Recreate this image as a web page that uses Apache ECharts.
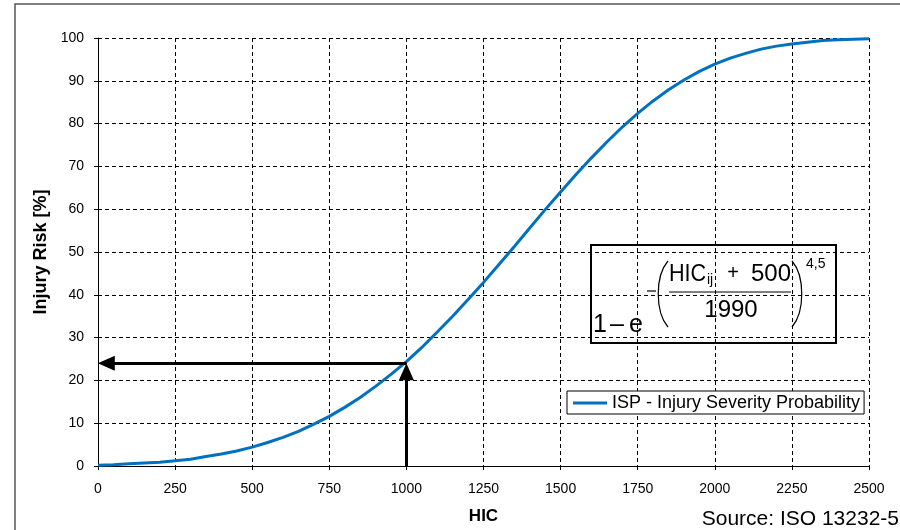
<!DOCTYPE html>
<html>
<head>
<meta charset="utf-8">
<script src="https://cdn.jsdelivr.net/npm/echarts@6/dist/echarts.min.js"></script>
<style>html,body{margin:0;padding:0;background:#fff}#c{width:900px;height:530px}</style>
</head>
<body>
<div id="c"></div>
<script>
// HIC values (x) and injury risk in % (y)
const hic = [0,50,100,150,200,250,300,350,400,450,500,550,600,650,700,750,800,850,900,950,
  1000,1050,1100,1150,1200,1250,1300,1350,1400,1450,1500,1550,1600,1650,1700,1750,1800,1850,1900,1950,
  2000,2050,2100,2150,2200,2250,2300,2350,2400,2450,2500];
const risk = [0.2,0.3,0.5,0.7,0.9,1.2,1.6,2.2,2.8,3.5,4.4,5.5,6.7,8.1,9.8,11.6,13.7,16.0,18.6,21.4,
  24.4,27.7,31.3,35.0,38.9,42.9,47.1,51.3,55.6,59.9,64.0,68.1,72.0,75.7,79.2,82.4,85.3,87.9,90.2,92.2,
  93.9,95.3,96.4,97.4,98.1,98.6,99.0,99.4,99.6,99.7,99.8];
const xTicks = [0,250,500,750,1000,1250,1500,1750,2000,2250,2500];
const yTicks = [0,10,20,30,40,50,60,70,80,90,100];
const seriesName = 'ISP - Injury Severity Probability';
const markHIC = 1000, markRisk = 24;

const FONT = "'Liberation Sans', Arial, sans-serif";
const chart = echarts.init(document.getElementById('c'), null, {renderer: 'canvas'});
const dash = {color: '#000', width: 1, type: [4, 3]};

const option = {
  backgroundColor: '#fff',
  animation: false,
  textStyle: {fontFamily: FONT},
  grid: {left: 98, right: 31, top: 38, bottom: 62, containLabel: false},
  xAxis: {
    type: 'value', min: xTicks[0], max: xTicks[xTicks.length - 1], interval: 250,
    name: 'HIC', nameLocation: 'middle', nameGap: 42,
    nameTextStyle: {fontFamily: FONT, fontSize: 17, fontWeight: 'bold', color: '#000'},
    axisLine: {show: true, onZero: false, lineStyle: {color: '#000', width: 1}},
    axisTick: {show: true, length: 4, lineStyle: {color: '#000'}},
    axisLabel: {fontFamily: FONT, fontSize: 14, color: '#000', margin: 16, formatter: v => String(v)},
    splitLine: {show: true, lineStyle: dash}
  },
  yAxis: {
    type: 'value', min: yTicks[0], max: yTicks[yTicks.length - 1], interval: 10,
    name: 'Injury Risk [%]', nameLocation: 'middle', nameGap: 44, nameRotate: 90,
    nameTextStyle: {fontFamily: FONT, fontSize: 18, fontWeight: 'bold', color: '#000'},
    axisLine: {show: true, lineStyle: {color: '#000', width: 1}},
    axisTick: {show: true, length: 4, lineStyle: {color: '#000'}},
    axisLabel: {fontFamily: FONT, fontSize: 14, color: '#000', margin: 14, formatter: v => String(v)},
    splitLine: {show: true, lineStyle: dash}
  },
  legend: {
    data: [seriesName], left: 567, top: 391, orient: 'horizontal',
    icon: 'rect', itemWidth: 34, itemHeight: 3,
    padding: [3, 4, 2, 6], borderColor: '#000', borderWidth: 1, backgroundColor: '#fff',
    textStyle: {fontFamily: FONT, fontSize: 18, color: '#000'}
  },
  series: [{
    name: seriesName, type: 'line', showSymbol: false, symbol: 'none',
    data: hic.map((h, i) => [h, risk[i]]),
    lineStyle: {color: '#0070C0', width: 3},
    itemStyle: {color: '#0070C0'},
    silent: true,
    markLine: {
      silent: true, animation: false,
      symbol: ['none', 'triangle'], symbolSize: [15, 17],
      label: {show: false},
      lineStyle: {color: '#000', width: 3, type: 'solid'},
      emphasis: {disabled: true},
      data: [
        [{coord: [markHIC, 0]}, {coord: [markHIC, markRisk - 2]}],
        [{coord: [markHIC, markRisk]}, {coord: [27, markRisk]}]
      ]
    }
  }],
  graphic: [
    {type: 'rect', shape: {x: 15, y: 4, width: 900, height: 540},
     style: {fill: 'none', stroke: '#555', lineWidth: 1.5}, silent: true, z: 0},
    {type: 'text', right: 1, top: 509, silent: true,
     style: {text: 'Source: ISO 13232-5', font: '21px ' + FONT, fill: '#000'}},
    {type: 'group', silent: true, z: 10, children: [
      {type: 'rect', shape: {x: 591, y: 245, width: 245, height: 98},
       style: {fill: '#fff', stroke: '#000', lineWidth: 2}},
      {type: 'text', x: 593, y: 325, style: {text: '1', font: '25px ' + FONT, fill: '#000', verticalAlign: 'middle'}},
      {type: 'text', x: 610, y: 325, style: {text: '\u2013', font: '25px ' + FONT, fill: '#000', verticalAlign: 'middle'}},
      {type: 'text', x: 629, y: 325, style: {text: 'e', font: '25px ' + FONT, fill: '#000', verticalAlign: 'middle'}},
      {type: 'line', shape: {x1: 647, y1: 291, x2: 656, y2: 291}, style: {stroke: '#000', lineWidth: 1.2}},
      {type: 'bezierCurve', shape: {x1: 668, y1: 261, cpx1: 655, cpy1: 276, cpx2: 655, cpy2: 312, x2: 668, y2: 327},
       style: {stroke: '#000', lineWidth: 1.2, fill: null}},
      {type: 'bezierCurve', shape: {x1: 792, y1: 261, cpx1: 805, cpy1: 276, cpx2: 805, cpy2: 312, x2: 792, y2: 327},
       style: {stroke: '#000', lineWidth: 1.2, fill: null}},
      {type: 'text', x: 669, y: 274, scaleX: 0.9, style: {text: 'HIC', font: '24px ' + FONT, fill: '#000', verticalAlign: 'middle'}},
      {type: 'text', x: 707, y: 280, style: {text: 'ij', font: '14px ' + FONT, fill: '#000', verticalAlign: 'middle'}},
      {type: 'text', x: 733, y: 273, style: {text: '+', font: '20px ' + FONT, fill: '#000', verticalAlign: 'middle', align: 'center'}},
      {type: 'text', x: 791, y: 274, style: {text: '500', font: '24px ' + FONT, fill: '#000', verticalAlign: 'middle', align: 'right'}},
      {type: 'line', shape: {x1: 669, y1: 292, x2: 791, y2: 292}, style: {stroke: '#000', lineWidth: 1.2}},
      {type: 'text', x: 731, y: 310, style: {text: '1990', font: '24px ' + FONT, fill: '#000', verticalAlign: 'middle', align: 'center'}},
      {type: 'text', x: 806, y: 264, style: {text: '4,5', font: '14px ' + FONT, fill: '#000', verticalAlign: 'middle'}}
    ]}
  ]
};
chart.setOption(option);
</script>
</body>
</html>
